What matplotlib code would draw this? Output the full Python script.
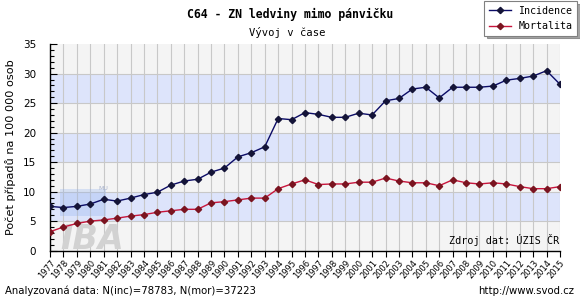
import matplotlib
matplotlib.use("Agg")
import matplotlib.pyplot as plt
from matplotlib.patches import Rectangle
from matplotlib.ticker import MultipleLocator

# data
years = list(range(1977, 2016))
incidence = [7.5, 7.3, 7.5, 7.9, 8.7, 8.4, 8.9, 9.5, 9.9, 11.1, 11.8, 12.1, 13.3, 14.0,
             15.9, 16.6, 17.6, 22.4, 22.2, 23.4, 23.1, 22.6, 22.6, 23.3, 23.0, 25.4,
             25.8, 27.4, 27.7, 25.9, 27.7, 27.7, 27.7, 27.9, 28.9, 29.2, 29.6, 30.5, 28.2]
mortalita = [3.2, 4.0, 4.6, 5.0, 5.2, 5.5, 5.85, 6.1, 6.5, 6.75, 7.0, 7.0, 8.1, 8.3,
             8.6, 8.9, 8.9, 10.5, 11.3, 12.0, 11.2, 11.3, 11.3, 11.6, 11.6, 12.3,
             11.8, 11.5, 11.5, 11.0, 12.0, 11.5, 11.3, 11.5, 11.3, 10.85, 10.5, 10.5, 10.85]
y_max = 35
y_step = 5

BAND_GRAY = "#f4f4f4"
BAND_BLUE = "#dde4fb"
INC_LINE, INC_MARK = "#0b0b66", "#141438"
MOR_LINE, MOR_MARK = "#c8143c", "#7a1420"
MONO = "DejaVu Sans Mono"

fig = plt.figure(figsize=(5.8, 3.0), dpi=100)
fig.patch.set_facecolor("white")
ax = fig.add_axes([50 / 580, 1 - 250.6 / 300, 510 / 580, 206.4 / 300])
ax.set_facecolor(BAND_GRAY)

# horizontal bands
for i, lo in enumerate(range(0, y_max, y_step)):
    ax.axhspan(lo, lo + y_step, color=BAND_BLUE if i % 2 else BAND_GRAY, lw=0, zorder=0)
for y in range(y_step, y_max, y_step):
    ax.axhline(y, color="#c8c8c8", lw=0.8, zorder=1)
for yr in years[1:]:
    ax.axvline(yr, color="#c8c8c8", lw=0.8, zorder=1)

# watermark (IBA logo)
ax.add_patch(Rectangle((0.02, 0.17), 0.09, 0.13, transform=ax.transAxes,
                       color="#8fb0ee", alpha=0.3, lw=0, zorder=1.4))
ax.text(0.02, 0.01, "IBA", transform=ax.transAxes, fontsize=24, fontweight="bold",
        style="italic", color="#d2d2d2", zorder=1.5)
ax.text(0.095, 0.295, "MU", transform=ax.transAxes, fontsize=4.5, color="#aab4cc",
        zorder=1.5)

ax.plot(years, incidence, color=INC_LINE, lw=1.0, marker="D", ms=3.2,
        mfc=INC_MARK, mec=INC_MARK, zorder=3, label="Incidence")
ax.plot(years, mortalita, color=MOR_LINE, lw=1.0, marker="D", ms=3.2,
        mfc=MOR_MARK, mec=MOR_MARK, zorder=3, label="Mortalita")

ax.set_xlim(years[0], years[-1])
ax.set_ylim(0, y_max)
ax.set_xticks(years)
ax.set_xticklabels([str(y) for y in years], rotation=50, ha="right",
                   rotation_mode="anchor", fontsize=6)
ax.yaxis.set_major_locator(MultipleLocator(y_step))
ax.yaxis.set_minor_locator(MultipleLocator(1))
ax.tick_params(axis="y", which="major", direction="in", length=5, width=0.8,
               labelsize=7.5, pad=10, colors="black")
ax.tick_params(axis="y", which="minor", direction="in", length=3, width=0.8)
ax.tick_params(axis="x", which="major", direction="out", length=4, width=0.8, pad=1.5)
for s in ["top", "right"]:
    ax.spines[s].set_visible(False)
for s in ["left", "bottom"]:
    ax.spines[s].set_linewidth(1.0)

ax.set_ylabel("Počet případů na 100 000 osob", fontsize=8.1)
ax.yaxis.set_label_coords(-0.066, 0.5)

ax.text(0.998, 0.02, "Zdroj dat: ÚZIS ČR", transform=ax.transAxes, ha="right",
        va="bottom", fontsize=7.3, family=MONO, zorder=4)

fig.text(0.5, 1 - 14 / 300, "C64 - ZN ledviny mimo pánvičku", ha="center",
         va="center", fontsize=8.3, fontweight="bold", family=MONO)
fig.text(0.495, 1 - 33 / 300, "Vývoj v čase", ha="center", va="center",
         fontsize=7.6, family=MONO)

leg = fig.legend(loc="upper right", bbox_to_anchor=(578 / 580, 1.0),
                 prop={"family": MONO, "size": 7.2}, frameon=True, fancybox=False,
                 shadow=True, handlelength=2.2, borderpad=0.45, labelspacing=0.55,
                 handletextpad=0.8, borderaxespad=0.1)
leg.get_frame().set_edgecolor("#808080")
leg.get_frame().set_linewidth(0.8)

fig.text(5 / 580, 1 - 291 / 300, "Analyzovaná data: N(inc)=78783, N(mor)=37223",
         ha="left", va="center", fontsize=7.3)
fig.text(574 / 580, 1 - 291 / 300, "http://www.svod.cz", ha="right", va="center",
         fontsize=7.3)

fig.savefig("out.png", dpi=100, facecolor="white")
